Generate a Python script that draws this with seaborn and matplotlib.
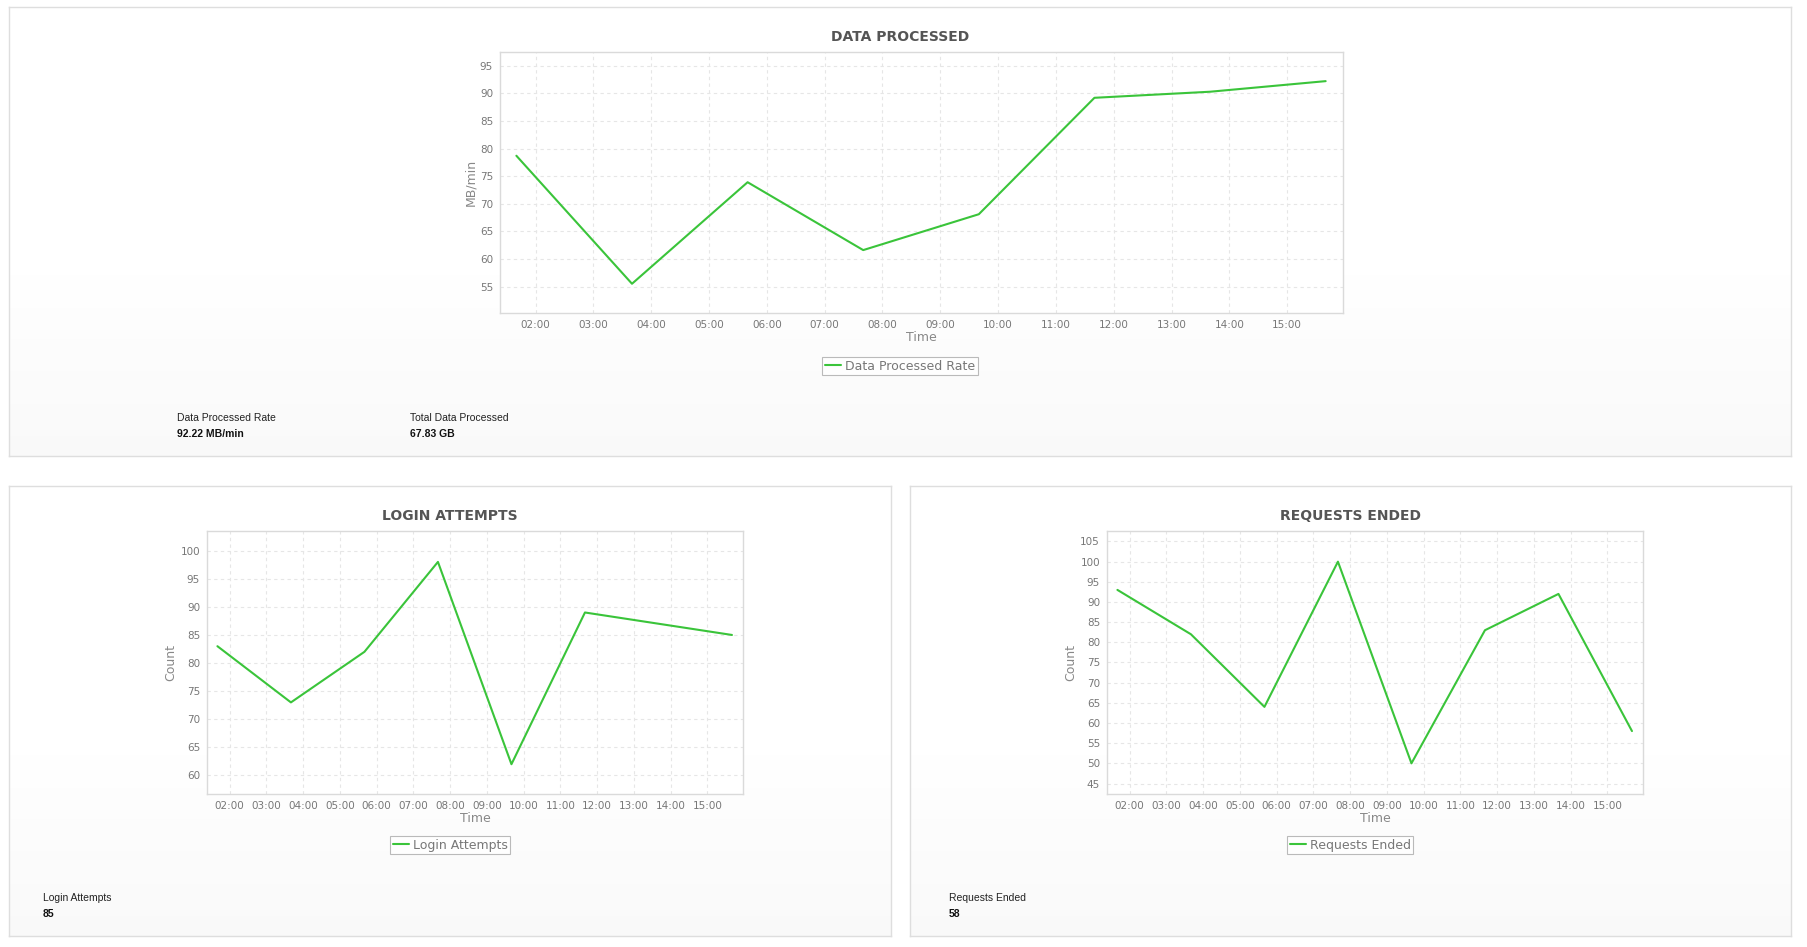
import numpy as np
import pandas as pd
import matplotlib
matplotlib.use('Agg')
import matplotlib.pyplot as plt
import matplotlib.dates as mdates
from matplotlib.ticker import MultipleLocator
import seaborn as sns

times = ['01:40', '03:40', '05:40', '07:40', '09:40', '11:40', '13:40', '15:40']
data_rate = [78.7, 55.5, 73.9, 61.6, 68.1, 89.2, 90.3, 92.22]
login_attempts = [83, 73, 82, 98, 62, 89, 87, 85]
requests_ended = [93, 82, 64, 100, 50, 83, 92, 58]

stats_top = [('Data Processed Rate', '92.22 MB/min'), ('Total Data Processed', '67.83 GB')]
stats_login = [('Login Attempts', '85')]
stats_requests = [('Requests Ended', '58')]

sns.set_style('white')
plt.rcParams['font.family'] = ['DejaVu Sans']

W, H = 1808, 947
fig = plt.figure(figsize=(W / 100, H / 100), dpi=100)
fig.patch.set_facecolor('white')

GREEN = '#3ac43a'
t = pd.to_datetime(['2024-01-01 ' + s for s in times])
xmin = pd.Timestamp('2024-01-01 01:23')
xmax = pd.Timestamp('2024-01-01 15:58')


def rect(l, top, r, b):
    return [l / W, 1 - b / H, (r - l) / W, (b - top) / H]


def panel(l, top, r, b):
    bg = fig.add_axes(rect(l, top, r, b), zorder=0)
    grad = np.linspace(0, 1, 200)
    grad = np.clip((grad - 0.6) / 0.4, 0, 1)
    img = np.ones((200, 1, 3))
    img[:, 0, :] = (1 - grad[:, None] * 0.022)
    bg.imshow(img, aspect='auto', extent=[0, 1, 0, 1])
    bg.set_xlim(0, 1)
    bg.set_ylim(0, 1)
    bg.set_xticks([])
    bg.set_yticks([])
    for s in bg.spines.values():
        s.set_color('#dedede')
        s.set_linewidth(1)


def chart(box, pbox, title, vals, ylabel, label, ylim, leg_gap):
    l, top, r, b = box
    ax = fig.add_axes(rect(l, top, r, b), zorder=2)
    df = pd.DataFrame({'Time': t, 'value': vals})
    sns.lineplot(data=df, x='Time', y='value', ax=ax, color=GREEN, lw=1.5, label=label)
    ax.set_xlim(xmin, xmax)
    ax.set_ylim(*ylim)
    ax.xaxis.set_major_locator(mdates.HourLocator())
    ax.xaxis.set_major_formatter(mdates.DateFormatter('%H:%M'))
    ax.yaxis.set_major_locator(MultipleLocator(5))
    ax.grid(True, color='#e6e6e6', linestyle=(0, (3, 3)), lw=0.8)
    ax.set_axisbelow(True)
    for s in ax.spines.values():
        s.set_color('#dadada')
        s.set_linewidth(1)
    ax.tick_params(axis='both', length=3, width=0.8, color='#aaaaaa',
                   labelsize=7.5, labelcolor='#777777', pad=2)
    ax.set_xlabel('Time', fontsize=9, color='#888888', labelpad=1)
    ax.set_ylabel(ylabel, fontsize=9, color='#888888', labelpad=2)
    pl, pt, pr, pb = pbox
    cx = (pl + pr) / 2
    fig.text(cx / W, 1 - (top - 15) / H, title, ha='center', va='center',
             fontsize=10, fontweight='bold', color='#555555')
    leg = ax.legend(loc='center', bbox_to_anchor=(cx / W, 1 - (b + leg_gap) / H),
                    bbox_transform=fig.transFigure, fontsize=9, frameon=True,
                    fancybox=False, handlelength=1.3, handletextpad=0.3,
                    borderpad=0.2, borderaxespad=0)
    leg.get_frame().set_edgecolor('#aaaaaa')
    leg.get_frame().set_linewidth(0.8)
    for txt in leg.get_texts():
        txt.set_color('#777777')
    return ax


def stats(items, x0, y0, step=233):
    for i, (lab, val) in enumerate(items):
        x = (x0 + i * step) / W
        fig.text(x, 1 - y0 / H, lab, ha='left', va='center', fontsize=7.5,
                 family=['Liberation Sans'], color='#222222')
        fig.text(x, 1 - (y0 + 16) / H, val, ha='left', va='center', fontsize=7.5,
                 family=['Liberation Sans'], fontweight='bold', color='#111111')


top_panel = (9, 7, 1791, 456)
left_panel = (9, 486, 891, 936)
right_panel = (910, 486, 1791, 936)

panel(*top_panel)
panel(*left_panel)
panel(*right_panel)

chart((500, 52, 1343, 313), top_panel, 'DATA PROCESSED', data_rate, 'MB/min',
      'Data Processed Rate', (50.2, 97.5), 53)
chart((207, 531, 743, 794), left_panel, 'LOGIN ATTEMPTS', login_attempts, 'Count',
      'Login Attempts', (56.7, 103.5), 51)
chart((1107, 531, 1643, 794), right_panel, 'REQUESTS ENDED', requests_ended, 'Count',
      'Requests Ended', (42.4, 107.6), 51)

stats(stats_top, 177, 418)
stats(stats_login, 43, 898)
stats(stats_requests, 949, 898)

fig.savefig('out.png', dpi=100)
